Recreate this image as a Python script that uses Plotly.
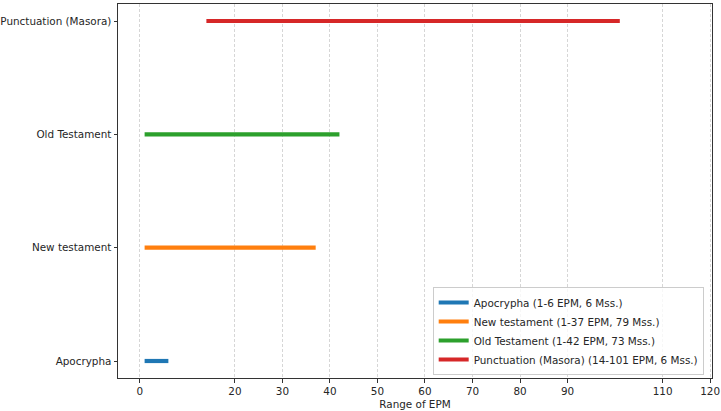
import plotly.graph_objects as go

categories = ["Apocrypha", "New testament", "Old Testament", "Punctuation (Masora)"]
starts = [1, 1, 1, 14]
ends = [6, 37, 42, 101]
mss = [6, 79, 73, 6]
colors = ["#1f77b4", "#ff7f0e", "#2ca02c", "#d62728"]
xtick_vals = [0, 20, 30, 40, 50, 60, 70, 80, 90, 110, 120]

fig = go.Figure()
for i, cat in enumerate(categories):
    fig.add_trace(go.Scatter(
        x=[starts[i], ends[i]], y=[i, i],
        mode="lines",
        line=dict(color=colors[i], width=4.2),
        name=f"{cat} ({starts[i]}-{ends[i]} EPM, {mss[i]} Mss.)",
    ))

font = dict(family="DejaVu Sans", size=10.4, color="#262626")
lfont = dict(family="DejaVu Sans", size=10.4, color="#262626")
fig.update_layout(
    width=721, height=411,
    margin=dict(l=118, r=9, t=4, b=33),
    plot_bgcolor="white", paper_bgcolor="white",
    font=font,
    showlegend=True,
    legend=dict(
        x=0.986, xanchor="right", y=0.008, yanchor="bottom",
        bgcolor="rgba(255,255,255,0.8)", bordercolor="#cccccc", borderwidth=1,
        font=lfont, tracegroupgap=0, itemwidth=30,
    ),
    xaxis=dict(
        range=[-4.6, 120.4], tickvals=xtick_vals, automargin=False,
        showgrid=True, gridcolor="#d6d6d6", griddash="3px,2px", gridwidth=0.8,
        zeroline=False, showline=True, mirror=True, linecolor="#333", linewidth=1,
        ticks="outside", ticklen=3.5, tickcolor="#333",
        title=dict(text="Range of EPM", font=font, standoff=4),
    ),
    yaxis=dict(
        range=[-0.15, 3.15], tickvals=list(range(len(categories))), ticktext=categories,
        automargin=False,
        showgrid=False, zeroline=False, showline=True, mirror=True, linecolor="#333", linewidth=1,
        ticks="outside", ticklen=3.5, tickcolor="#333",
    ),
)
fig.write_html("out.html")
